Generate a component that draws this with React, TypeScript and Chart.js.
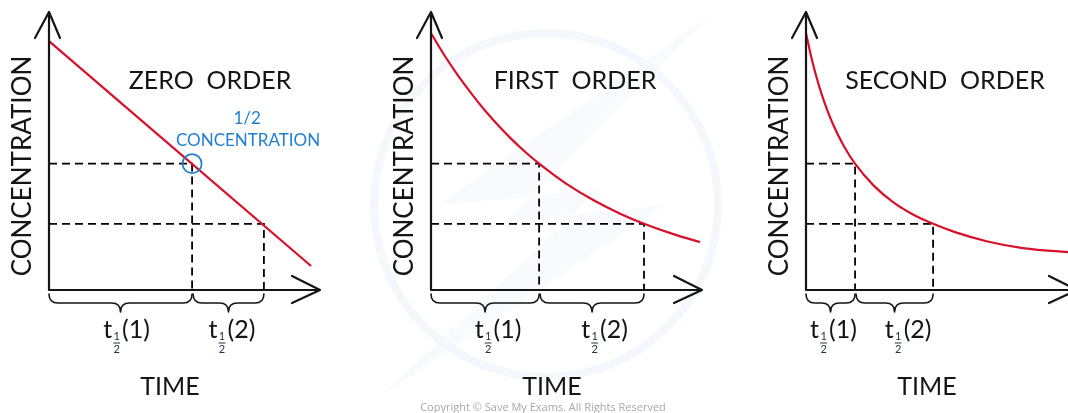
import React, { useEffect, useRef } from "react";
import { Chart, registerables } from "chart.js";

Chart.register(...registerables);

// ---------------- data ----------------
const TIME_MAX = 10;
const CONC_MAX = 110;

const panelTitles = ["ZERO  ORDER", "FIRST  ORDER", "SECOND  ORDER"];
const yAxisLabel = "CONCENTRATION";
const xAxisLabel = "TIME";
const halfLabels = ["(1)", "(2)"];
const halfNote = ["1/2", "CONCENTRATION"];
const copyright = "Copyright © Save My Exams. All Rights Reserved";

// concentration levels of the two dashed guide lines
const halfConc = [50, 26.2];

const zeroTimes = [0, 9.67];
const zeroConc = [98.5, 9.5];
const zeroHalfTimes = [5.28, 7.93];

const firstTimes = [0, 0.5, 1, 1.5, 2, 2.5, 3, 3.5, 3.99, 5, 6, 7, 7.86, 9, 9.93];
const firstConc = [101.6, 92.8, 84.8, 77.6, 70.9, 64.9, 59.4, 54.4, 50, 42.0, 35.5, 30.1, 26.2, 21.9, 19.0];
const firstHalfTimes = [3.99, 7.86];

const secondTimes = [0, 0.25, 0.5, 0.75, 1, 1.4, 1.81, 2.5, 3.2, 4, 4.69, 5.5, 6.7, 8, 9.7, 10];
const secondConc = [101.6, 89.7, 80.1, 72.2, 65.5, 56.9, 50, 41.3, 34.9, 29.6, 26.2, 22.9, 19.2, 16.6, 15.0, 14.8];
const secondHalfTimes = [1.81, 4.69];

// ---------------- layout / style ----------------
const W = 1068;
const H = 413;
const PLOT_W = 271;
const TOP = 12;
const BOTTOM = 290;

const RED = "#d8102a";
const BLUE = "#1f7fd2";
const INK = "#151515";
const FONT = "Lato, 'Open Sans', sans-serif";

type Panel = {
  canvasLeft: number;
  canvasWidth: number;
  axisX: number;
  times: number[];
  conc: number[];
  halfTimes: number[];
  title: string;
  titleDx: number;
  labelDx: number[];
  note: boolean;
  copyright: boolean;
};

const panels: Panel[] = [
  { canvasLeft: 0, canvasWidth: 356, axisX: 49, times: zeroTimes, conc: zeroConc, halfTimes: zeroHalfTimes, title: panelTitles[0], titleDx: 161, labelDx: [6, 4], note: true, copyright: false },
  { canvasLeft: 356, canvasWidth: 356, axisX: 431, times: firstTimes, conc: firstConc, halfTimes: firstHalfTimes, title: panelTitles[1], titleDx: 144, labelDx: [13, 13], note: false, copyright: true },
  { canvasLeft: 712, canvasWidth: 372, axisX: 806, times: secondTimes, conc: secondConc, halfTimes: secondHalfTimes, title: panelTitles[2], titleDx: 139, labelDx: [3, 14], note: false, copyright: false },
];

function drawWatermark(ctx: CanvasRenderingContext2D, offX: number) {
  ctx.save();
  ctx.translate(-offX, 0);
  ctx.fillStyle = "#f8fafd";
  ctx.beginPath();
  ctx.moveTo(712, 14);
  ctx.lineTo(438, 205);
  ctx.lineTo(600, 190);
  ctx.lineTo(378, 398);
  ctx.lineTo(665, 205);
  ctx.lineTo(505, 222);
  ctx.closePath();
  ctx.fill();
  ctx.strokeStyle = "#f4f7fc";
  ctx.lineWidth = 8;
  ctx.beginPath();
  ctx.arc(546, 205, 172, 0, Math.PI * 2);
  ctx.stroke();
  ctx.restore();
}

function drawBrace(ctx: CanvasRenderingContext2D, x0: number, x1: number) {
  const top = 294, flat = 303, tip = 312;
  const mid = (x0 + x1) / 2;
  const r = Math.min(9, (x1 - x0) / 4);
  ctx.beginPath();
  ctx.moveTo(x0, top);
  ctx.quadraticCurveTo(x0, flat, x0 + r, flat);
  ctx.lineTo(mid - r, flat);
  ctx.quadraticCurveTo(mid, flat, mid, tip);
  ctx.quadraticCurveTo(mid, flat, mid + r, flat);
  ctx.lineTo(x1 - r, flat);
  ctx.quadraticCurveTo(x1, flat, x1, top);
  ctx.stroke();
}

function drawHalfLabel(ctx: CanvasRenderingContext2D, cx: number, suffix: string) {
  const base = 338;
  const big = `25px ${FONT}`;
  const small = `11px ${FONT}`;
  ctx.font = big;
  const tw = ctx.measureText("t").width;
  const sw = ctx.measureText(suffix).width;
  const fw = 8;
  const total = tw + fw + 2 + sw;
  let x = cx - total / 2;
  ctx.fillStyle = INK;
  ctx.textAlign = "left";
  ctx.textBaseline = "alphabetic";
  ctx.fillText("t", x, base);
  x += tw + 0.5;
  ctx.font = small;
  ctx.textAlign = "center";
  ctx.fillStyle = "#223344";
  ctx.fillText("1", x + fw / 2, base + 2);
  ctx.fillText("2", x + fw / 2, base + 15);
  ctx.strokeStyle = "#223344";
  ctx.lineWidth = 1;
  ctx.beginPath();
  ctx.moveTo(x + 1, base + 5);
  ctx.lineTo(x + fw - 1, base + 5);
  ctx.stroke();
  x += fw + 1.5;
  ctx.font = big;
  ctx.textAlign = "left";
  ctx.fillStyle = INK;
  ctx.fillText(suffix, x, base);
}

function makeDiagramPlugin(p: Panel) {
  return {
    id: "diagram",
    beforeDraw(chart: any) {
      drawWatermark(chart.ctx, p.canvasLeft);
    },
    afterDraw(chart: any) {
      const ctx: CanvasRenderingContext2D = chart.ctx;
      const xs = chart.scales.x;
      const ys = chart.scales.y;
      const ax = xs.getPixelForValue(0);
      const by = ys.getPixelForValue(0);
      const ty = ys.getPixelForValue(CONC_MAX);
      const tipX = xs.getPixelForValue(TIME_MAX);
      ctx.save();
      ctx.strokeStyle = INK;
      ctx.lineWidth = 2.2;
      ctx.lineCap = "round";
      ctx.lineJoin = "round";
      ctx.beginPath();
      ctx.moveTo(ax, by);
      ctx.lineTo(ax, ty);
      ctx.moveTo(ax - 14, ty + 26);
      ctx.lineTo(ax, ty);
      ctx.lineTo(ax + 11, ty + 26);
      ctx.moveTo(ax, by);
      ctx.lineTo(tipX, by);
      ctx.moveTo(tipX - 28, by - 14);
      ctx.lineTo(tipX, by);
      ctx.lineTo(tipX - 28, by + 13);
      ctx.stroke();

      ctx.lineWidth = 1.6;
      const h1 = xs.getPixelForValue(p.halfTimes[0]);
      const h2 = xs.getPixelForValue(p.halfTimes[1]);
      drawBrace(ctx, ax, h1);
      drawBrace(ctx, h1 + 1, h2);

      drawHalfLabel(ctx, (ax + h1) / 2 + p.labelDx[0], halfLabels[0]);
      drawHalfLabel(ctx, (h1 + h2) / 2 + p.labelDx[1], halfLabels[1]);

      ctx.fillStyle = INK;
      ctx.font = `25px ${FONT}`;
      ctx.textAlign = "center";
      ctx.textBaseline = "alphabetic";
      ctx.fillText(p.title, ax + p.titleDx, 89);
      ctx.fillText(xAxisLabel, ax + 121, 395);

      ctx.save();
      ctx.translate(ax - 18, 166);
      ctx.rotate(-Math.PI / 2);
      ctx.font = `26px ${FONT}`;
      ctx.textAlign = "center";
      ctx.fillText(yAxisLabel, 0, 0);
      ctx.restore();

      if (p.note) {
        const cx = xs.getPixelForValue(p.halfTimes[0]);
        const cy = ys.getPixelForValue(halfConc[0]);
        ctx.strokeStyle = BLUE;
        ctx.lineWidth = 1.7;
        ctx.beginPath();
        ctx.arc(cx, cy, 9.5, 0, Math.PI * 2);
        ctx.stroke();
        ctx.fillStyle = BLUE;
        ctx.font = `17px ${FONT}`;
        ctx.textAlign = "center";
        ctx.fillText(halfNote[0], cx + 55, cy - 40);
        ctx.fillText(halfNote[1], cx + 56, cy - 18);
      }
      if (p.copyright) {
        ctx.fillStyle = "#a8a8a8";
        ctx.font = `11px 'Open Sans', sans-serif`;
        ctx.textAlign = "center";
        ctx.fillText(copyright, 543 - p.canvasLeft, 411);
      }
      ctx.restore();
    },
  };
}

function PanelChart({ p }: { p: Panel }) {
  const ref = useRef<HTMLCanvasElement | null>(null);
  useEffect(() => {
    if (!ref.current) return;
    const curve = p.times.map((t, i) => ({ x: t, y: p.conc[i] }));
    const guides = p.halfTimes.map((t, i) => ({
      data: [
        { x: 0, y: halfConc[i] },
        { x: t, y: halfConc[i] },
        { x: t, y: 0 },
      ],
      borderColor: "#000000",
      borderWidth: 1.8,
      borderDash: [8, 5],
      pointRadius: 0,
      fill: false,
      tension: 0,
      clip: false as any,
    }));
    const padLeft = p.axisX - p.canvasLeft;
    const padRight = p.canvasWidth - padLeft - PLOT_W;
    const chart = new Chart(ref.current, {
      type: "line",
      data: {
        datasets: [
          {
            data: curve,
            borderColor: RED,
            borderWidth: 2.2,
            pointRadius: 0,
            fill: false,
            cubicInterpolationMode: "monotone",
            clip: false as any,
          },
          ...guides,
        ] as any,
      },
      options: {
        responsive: false,
        animation: false,
        events: [],
        layout: { padding: { left: padLeft, right: padRight, top: TOP, bottom: H - BOTTOM } },
        plugins: { legend: { display: false }, tooltip: { enabled: false }, title: { display: false } },
        scales: {
          x: { type: "linear", min: 0, max: TIME_MAX, display: false },
          y: { type: "linear", min: 0, max: CONC_MAX, display: false },
        },
      },
      plugins: [makeDiagramPlugin(p)],
    });
    return () => chart.destroy();
  }, [p]);
  return (
    <canvas
      ref={ref}
      width={p.canvasWidth}
      height={H}
      style={{ position: "absolute", left: p.canvasLeft, top: 0, width: p.canvasWidth, height: H }}
    />
  );
}

export default function App() {
  return (
    <div style={{ position: "fixed", left: 0, top: 0, width: W, height: H, overflow: "hidden", background: "#ffffff" }}>
      {panels.map((p, i) => (
        <PanelChart key={i} p={p} />
      ))}
    </div>
  );
}
